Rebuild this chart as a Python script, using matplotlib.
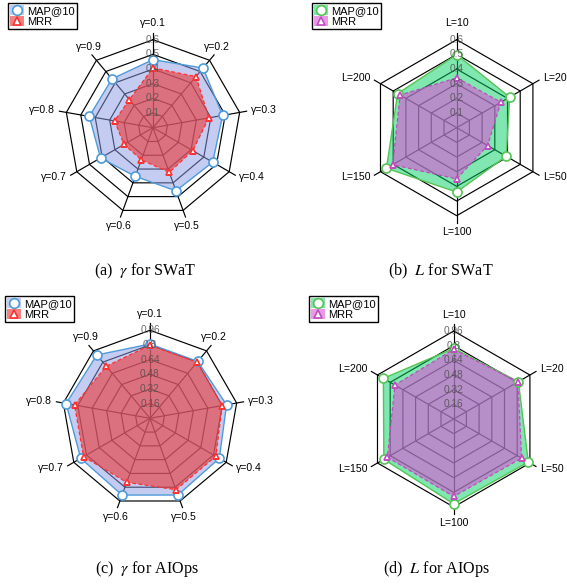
import numpy as np
import matplotlib.pyplot as plt
from matplotlib.patches import Patch
from matplotlib.lines import Line2D

plt.rcParams['font.family'] = ['Liberation Sans', 'DejaVu Sans']
plt.rcParams['mathtext.fontset'] = 'stix'

# data
gamma_labels = ['γ=0.1', 'γ=0.2', 'γ=0.3', 'γ=0.4', 'γ=0.5', 'γ=0.6', 'γ=0.7', 'γ=0.8', 'γ=0.9']
L_labels = ['L=10', 'L=20', 'L=50', 'L=100', 'L=150', 'L=200']

swat_gamma_map = [0.464, 0.531, 0.482, 0.470, 0.458, 0.353, 0.413, 0.441, 0.435]
swat_gamma_mrr = [0.408, 0.455, 0.387, 0.313, 0.324, 0.233, 0.228, 0.266, 0.250]
swat_L_map = [0.498, 0.417, 0.390, 0.439, 0.553, 0.465]
swat_L_mrr = [0.340, 0.348, 0.243, 0.349, 0.504, 0.445]

aiops_gamma_map = [0.810, 0.810, 0.848, 0.873, 0.891, 0.891, 0.873, 0.929, 0.902]
aiops_gamma_mrr = [0.797, 0.800, 0.800, 0.829, 0.829, 0.743, 0.837, 0.836, 0.742]
aiops_L_map = [0.770, 0.815, 0.940, 0.925, 0.880, 0.886]
aiops_L_mrr = [0.760, 0.810, 0.855, 0.845, 0.835, 0.740]

swat_rings = [0.1, 0.2, 0.3, 0.4, 0.5, 0.6]
aiops_rings = [0.16, 0.32, 0.48, 0.64, 0.8, 0.96]

blue = dict(edge='#4f9bd9', fill='#8c9be6', alpha=0.5)
red = dict(edge='#ff3030', fill='#e84040', alpha=0.65)
green = dict(edge='#55c455', fill='#00d060', alpha=0.5)
purple = dict(edge='#c04cc0', fill='#dc53d9', alpha=0.6)

W, H = 567, 584
fig = plt.figure(figsize=(W / 100, H / 100), dpi=100)


def radar(cx, cy, labels, map_vals, mrr_vals, rings, c1, c2, leg_xy):
    R = 110
    ax = fig.add_axes([(cx - R) / W, (H - cy - R) / H, 2 * R / W, 2 * R / H], projection='polar')
    n = len(labels)
    theta = np.arange(n) * 2 * np.pi / n
    tc = np.append(theta, theta[0])
    rmax = rings[-1]
    ax.set_theta_zero_location('N')
    ax.set_theta_direction(-1)
    ax.set_ylim(0, rmax * 1.25)
    ax.axis('off')

    for r in rings:
        ax.plot(tc, [r] * (n + 1), color='k', lw=0.85, zorder=1)
    for t in theta:
        ax.plot([t, t], [0, rmax * 1.08], color='k', lw=0.85, zorder=1)

    m = np.append(map_vals, map_vals[0])
    q = np.append(mrr_vals, mrr_vals[0])
    ax.fill(tc, m, color=c1['fill'], alpha=c1['alpha'], lw=0, zorder=2)
    ax.plot(tc, m, color=c1['edge'], lw=1.0, zorder=3)
    ax.fill(tc, q, color=c2['fill'], alpha=c2['alpha'], lw=0, zorder=4)
    ax.plot(tc, q, color=c2['edge'], lw=0.9, ls=(0, (3, 2)), zorder=5)
    ax.plot(theta, map_vals, ls='none', marker='o', ms=6.5, mfc='white', mec=c1['edge'], mew=1.2, zorder=6)
    ax.plot(theta, mrr_vals, ls='none', marker='^', ms=5, mfc='white', mec=c2['edge'], mew=1.2, zorder=7)

    for r in rings:
        ax.text(0, r, f'{r:g}', ha='center', va='center', fontsize=7.3, color='#505050', alpha=0.85, zorder=8)

    for t, lab in zip(theta, labels):
        x, y = np.sin(t), np.cos(t)
        if abs(y) > 0.6:
            ha = 'center'
            va = 'bottom' if y > 0 else 'top'
        else:
            ha = 'left' if x > 0 else 'right'
            va = 'center'
        ax.text(t, rmax * 1.13, lab, ha=ha, va=va, fontsize=7.6, clip_on=False)

    h1 = (Patch(facecolor=c1['fill'], alpha=c1['alpha'], edgecolor='none'),
          Line2D([], [], ls='none', marker='o', ms=7, mfc='white', mec=c1['edge'], mew=1.2))
    h2 = (Patch(facecolor=c2['fill'], alpha=c2['alpha'], edgecolor='none'),
          Line2D([], [], ls='none', marker='^', ms=5.5, mfc='white', mec=c2['edge'], mew=1.2))
    fig.legend([h1, h2], ['MAP@10', 'MRR'], loc='upper left',
               bbox_to_anchor=(leg_xy[0] / W, 1 - leg_xy[1] / H),
               fontsize=8, frameon=True, fancybox=False, edgecolor='k', framealpha=1,
               handlelength=1.2, handleheight=0.95, handletextpad=0.3, borderpad=0.2,
               labelspacing=0.05, borderaxespad=0)


radar(153, 127.7, gamma_labels, swat_gamma_map, swat_gamma_mrr, swat_rings, blue, red, (8, 3))
radar(456.7, 127.7, L_labels, swat_L_map, swat_L_mrr, swat_rings, green, purple, (312, 3))
radar(150, 418.3, gamma_labels, aiops_gamma_map, aiops_gamma_mrr, aiops_rings, blue, red, (5, 296))
radar(453.7, 419, L_labels, aiops_L_map, aiops_L_mrr, aiops_rings, green, purple, (309, 296))

cap = dict(ha='center', va='center', fontsize=11.6, family='Liberation Serif')
fig.text(145 / W, 1 - 271 / H, r'(a)  $\gamma$ for SWaT', **cap)
fig.text(441 / W, 1 - 271 / H, r'(b)  $L$ for SWaT', **cap)
fig.text(147 / W, 1 - 569 / H, r'(c)  $\gamma$ for AIOps', **cap)
fig.text(437 / W, 1 - 569 / H, r'(d)  $L$ for AIOps', **cap)

fig.savefig('out.png', dpi=100)
